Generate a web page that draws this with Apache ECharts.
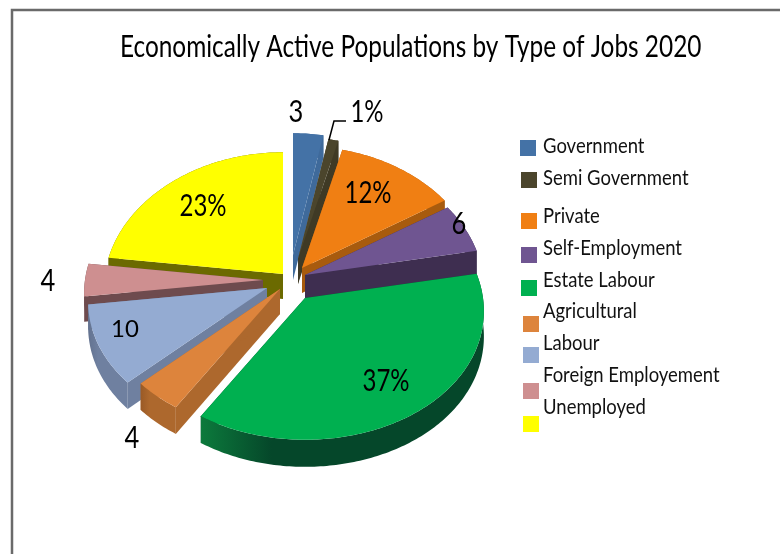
<!DOCTYPE html>
<html>
<head>
<meta charset="utf-8">
<style>html,body{margin:0;padding:0;background:#fff}#chart{width:780px;height:554px}</style>
<script src="https://cdn.jsdelivr.net/npm/echarts@6/dist/echarts.min.js"></script>
</head>
<body>
<div id="chart"></div>
<script>
// Job categories and their share of the economically active population (percent)
const categories = ['Government', 'Semi Government', 'Private', 'Self-Employment', 'Estate Labour', 'Agricultural', 'Labour', 'Foreign Employement', 'Unemployed'];
const shares = [3, 1, 12, 6, 37, 4, 10, 4, 23];
const sliceLabels = ['3', '1%', '12%', '6', '37%', '4', '10', '4', '23%'];
const titleText = 'Economically Active Populations by Type of Jobs 2020';

// Styling of the slices
const topColors = ['#4472a6', '#4b452c', '#f07f13', '#6f5591', '#00b050', '#dd843c', '#94abd2', '#ce8f90', '#ffff00'];
const wallColors = ['#3f6a9b', '#3f3a25', '#a85b0e', '#3e2e50', '#05472a', '#ad682d', '#6f80a0', '#6e4b4e', '#6b6a00'];
const wallLeftColors = ['#3f6a9b', '#3f3a25', '#a85b0e', '#3e2e50', '#0c7a3c', '#9a5a26', '#63728f', '#6e4b4e', '#6b6a00'];

// Exploded position of each slice's apex, measured from the pie centre
const pieCentre = [290, 276];
const explode = [[3, -21], [8, -17], [12, -8], [15, -1], [15, 22], [-10, 13], [-23, 12], [-27, 4], [-7, -2]];
const labelOffsets = [[6, -164], [77, -164], [78, -83], [169, -52], [96, 105], [-158, 162], [-165, 53], [-242, 5], [-87, -70]];
const labelSizes = [30, 30, 30, 30, 30, 30, 24, 30, 30];
const labelStretch = [0.85, 0.8, 0.8, 0.85, 0.8, 0.85, 1, 0.85, 0.8];
const drawRank = [1, 2, 3, 4, 8, 7, 6, 5, 0];
const textFont = 'Lato, "Noto Sans", sans-serif';

// Projection of the tilted disc
const radiusX = 178, radiusY = 131, perspectiveX = 0.1, perspectiveY = 0.076, thickness = 25;
const scaleAt = Y => 1 / (1 + perspectiveY * Y);
const point = (apex, a) => {
  const X = Math.sin(a), Y = Math.cos(a);
  return [apex[0] + radiusX * X / (1 + perspectiveX * Y), apex[1] - radiusY * Y * scaleAt(Y)];
};
const drop = (p, Y) => [p[0], p[1] + thickness * scaleAt(Y)];

let running = 0;
const angleSpans = shares.map(v => {
  const span = [running / 100 * 2 * Math.PI, (running + v) / 100 * 2 * Math.PI];
  running += v;
  return span;
});

function polygon(points, fill, z2) {
  return { type: 'polygon', z2, shape: { points }, style: { fill, stroke: null } };
}

function drawSlice(i, params, api) {
  const [a0, a1] = angleSpans[i];
  const apex = [pieCentre[0] + explode[i][0], pieCentre[1] + explode[i][1]];
  const share = api.value(0);
  const steps = Math.max(8, Math.round(share * 4));
  const arc = [], wall = [];
  for (let k = 0; k <= steps; k++) {
    const a = a0 + (a1 - a0) * k / steps;
    arc.push(point(apex, a));
    wall.push(drop(arc[k], Math.cos(a)));
  }
  const apexDrop = drop(apex, 0);
  const rimFill = new echarts.graphic.LinearGradient(0, 0, 1, 0, [
    { offset: 0, color: wallLeftColors[i] },
    { offset: 0.25, color: wallColors[i] },
    { offset: 1, color: wallColors[i] }
  ]);
  return {
    type: 'group',
    children: [
      // Cut faces of the wedge
      polygon([apex, arc[0], wall[0], apexDrop], wallColors[i], 1),
      polygon([apex, arc[steps], wall[steps], apexDrop], wallColors[i], 1),
      // Rim
      polygon(arc.concat(wall.slice().reverse()), rimFill, 2),
      // Upper face
      polygon([apex].concat(arc), topColors[i], 3),
      // Value label
      {
        type: 'text', z2: 10,
        x: pieCentre[0] + labelOffsets[i][0],
        y: pieCentre[1] + labelOffsets[i][1],
        scaleX: labelStretch[i],
        style: {
          text: sliceLabels[i], fill: '#000', align: 'center', verticalAlign: 'middle',
          font: labelSizes[i] + 'px ' + textFont
        }
      }
    ]
  };
}

const series = categories.map((name, i) => ({
  type: 'custom',
  name,
  coordinateSystem: 'none',
  z: 2 + drawRank[i],
  itemStyle: { color: topColors[i] },
  data: [[shares[i]]],
  renderItem: (params, api) => drawSlice(i, params, api),
  silent: true
}));

// Legend swatches and the separately placed captions beside them
const legendSwatchLeft = [520, 521, 521, 521, 521, 523, 523, 523, 523];
const legendSwatchTop = [140, 172, 213, 247, 280, 316, 347, 383, 416];
const legendCaptionY = [146, 178, 216, 248, 280, 311, 343, 375, 407];
const legends = categories.map((name, i) => ({
  data: [name],
  left: legendSwatchLeft[i],
  top: legendSwatchTop[i],
  padding: 0,
  itemWidth: 16,
  itemHeight: 16,
  itemGap: 0,
  icon: 'rect',
  selectedMode: false,
  formatter: () => ' ',
  textStyle: { fontSize: 1 }
}));
const legendCaptions = categories.map((name, i) => ({
  type: 'text',
  silent: true,
  x: 543,
  y: legendCaptionY[i],
  scaleX: 0.84,
  style: { text: name, fill: '#111', align: 'left', verticalAlign: 'middle', font: '22px ' + textFont }
}));

const chart = echarts.init(document.getElementById('chart'), null, { renderer: 'canvas' });
chart.setOption({
  animation: false,
  backgroundColor: '#fff',
  legend: legends,
  graphic: [
    { type: 'text', silent: true, x: 120, y: 47, scaleX: 0.813, style: { text: titleText, fill: '#000', align: 'left', verticalAlign: 'middle', font: '30px ' + textFont } },
    { type: 'polyline', silent: true, shape: { points: [[780, 10], [12, 10], [12, 554]] }, style: { stroke: '#6a6a6a', lineWidth: 2.5, fill: null } },
    { type: 'polyline', silent: true, z: 20, shape: { points: [[329, 140], [334, 121], [346, 121]] }, style: { stroke: '#000', lineWidth: 1.5, fill: null } }
  ].concat(legendCaptions),
  series
});
</script>
</body>
</html>
